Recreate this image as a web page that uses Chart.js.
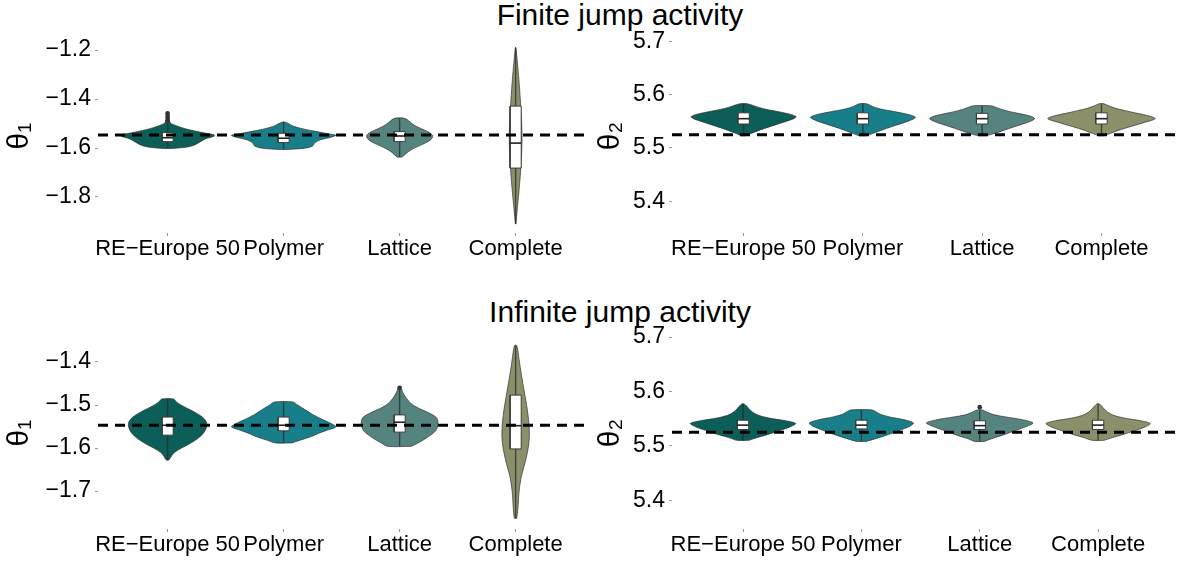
<!DOCTYPE html>
<html>
<head>
<meta charset="utf-8">
<title>Violin plots</title>
<script src="https://cdn.jsdelivr.net/npm/chart.js@4.4.1/dist/chart.umd.min.js"></script>
<style>
  body { margin: 0; background: #fff; width: 1182px; height: 561px; position: relative; overflow: hidden; font-family: 'Liberation Sans', Arial, sans-serif; }
  canvas { position: absolute; }
  .title { position: absolute; font-size: 30px; line-height: 30px; white-space: nowrap; transform: translateX( -50% ); color: #000; }
</style>
</head>
<body>
<div class="title" style="left:620px; top:0px;">Finite jump activity</div>
<div class="title" style="left:620px; top:297px;">Infinite jump activity</div>
<canvas id="finiteTheta1" width="595" height="275" style="left:0px; top:0px;"></canvas>
<canvas id="finiteTheta2" width="587" height="275" style="left:595px; top:0px;"></canvas>
<canvas id="infiniteTheta1" width="595" height="271" style="left:0px; top:290px;"></canvas>
<canvas id="infiniteTheta2" width="587" height="271" style="left:595px; top:290px;"></canvas>
<script>
'use strict';

const categories = [ 'RE−Europe 50', 'Polymer', 'Lattice', 'Complete' ];
const colours = [ '#0c5e59', '#187f8a', '#55847e', '#8c906a' ];

const theta1FiniteTicks = [ -1.8, -1.6, -1.4, -1.2 ];
const theta1InfiniteTicks = [ -1.7, -1.6, -1.5, -1.4 ];
const theta2Ticks = [ 5.4, 5.5, 5.6, 5.7 ];

const trueTheta1 = -1.547;
const trueTheta2 = 5.525;

// violin outlines: [value, half width in category units], bottom to top
const finiteTheta1Violins = [
  [ [ -1.602, 0.03 ], [ -1.598, 0.14 ], [ -1.59, 0.22 ], [ -1.575, 0.28 ], [ -1.562, 0.33 ], [ -1.552, 0.40 ], [ -1.546, 0.40 ], [ -1.538, 0.31 ], [ -1.528, 0.21 ], [ -1.518, 0.13 ], [ -1.508, 0.07 ], [ -1.498, 0.025 ], [ -1.48, 0.012 ], [ -1.458, 0.005 ] ],
  [ [ -1.606, 0.03 ], [ -1.601, 0.18 ], [ -1.592, 0.25 ], [ -1.578, 0.27 ], [ -1.566, 0.32 ], [ -1.556, 0.41 ], [ -1.548, 0.45 ], [ -1.54, 0.36 ], [ -1.53, 0.25 ], [ -1.52, 0.15 ], [ -1.51, 0.08 ], [ -1.50, 0.04 ], [ -1.494, 0.01 ] ],
  [ [ -1.637, 0.02 ], [ -1.625, 0.05 ], [ -1.61, 0.09 ], [ -1.595, 0.15 ], [ -1.58, 0.22 ], [ -1.565, 0.27 ], [ -1.55, 0.285 ], [ -1.535, 0.25 ], [ -1.52, 0.18 ], [ -1.505, 0.12 ], [ -1.49, 0.08 ], [ -1.48, 0.05 ], [ -1.477, 0.01 ] ],
  [ [ -1.91, 0.002 ], [ -1.85, 0.014 ], [ -1.78, 0.028 ], [ -1.70, 0.042 ], [ -1.62, 0.052 ], [ -1.55, 0.055 ], [ -1.48, 0.05 ], [ -1.40, 0.04 ], [ -1.32, 0.028 ], [ -1.25, 0.015 ], [ -1.19, 0.002 ] ]
];
// boxes: [lower whisker, q1, median, q3, upper whisker]
const finiteTheta1Boxes = [
  [ -1.600, -1.574, -1.558, -1.537, -1.500 ],
  [ -1.605, -1.578, -1.560, -1.540, -1.494 ],
  [ -1.636, -1.574, -1.551, -1.533, -1.478 ],
  [ -1.910, -1.682, -1.580, -1.429, -1.190 ]
];
const finiteTheta1Outliers = [ [ -1.458, -1.468, -1.478, -1.488 ], [], [], [] ];

const finiteTheta2Violins = [
  [ [ 5.523, 0.02 ], [ 5.527, 0.06 ], [ 5.533, 0.13 ], [ 5.54, 0.22 ], [ 5.548, 0.33 ], [ 5.555, 0.42 ], [ 5.559, 0.44 ], [ 5.564, 0.38 ], [ 5.569, 0.27 ], [ 5.574, 0.16 ], [ 5.579, 0.09 ], [ 5.583, 0.03 ] ],
  [ [ 5.523, 0.03 ], [ 5.527, 0.08 ], [ 5.533, 0.15 ], [ 5.54, 0.24 ], [ 5.548, 0.35 ], [ 5.554, 0.42 ], [ 5.558, 0.44 ], [ 5.563, 0.38 ], [ 5.568, 0.27 ], [ 5.573, 0.15 ], [ 5.578, 0.08 ], [ 5.583, 0.03 ] ],
  [ [ 5.523, 0.03 ], [ 5.527, 0.10 ], [ 5.533, 0.18 ], [ 5.54, 0.27 ], [ 5.548, 0.38 ], [ 5.555, 0.44 ], [ 5.56, 0.40 ], [ 5.565, 0.30 ], [ 5.57, 0.20 ], [ 5.575, 0.13 ], [ 5.579, 0.08 ] ],
  [ [ 5.523, 0.02 ], [ 5.527, 0.07 ], [ 5.533, 0.14 ], [ 5.54, 0.24 ], [ 5.548, 0.36 ], [ 5.555, 0.45 ], [ 5.56, 0.40 ], [ 5.565, 0.30 ], [ 5.57, 0.20 ], [ 5.575, 0.11 ], [ 5.58, 0.05 ], [ 5.583, 0.02 ] ]
];
const finiteTheta2Boxes = [
  [ 5.523, 5.545, 5.555, 5.566, 5.583 ],
  [ 5.523, 5.545, 5.555, 5.566, 5.583 ],
  [ 5.523, 5.545, 5.555, 5.565, 5.579 ],
  [ 5.523, 5.545, 5.555, 5.566, 5.583 ]
];
const finiteTheta2Outliers = [ [], [], [], [] ];

const infiniteTheta1Violins = [
  [ [ -1.628, 0.01 ], [ -1.62, 0.03 ], [ -1.61, 0.06 ], [ -1.60, 0.12 ], [ -1.59, 0.19 ], [ -1.578, 0.26 ], [ -1.565, 0.31 ], [ -1.552, 0.335 ], [ -1.54, 0.335 ], [ -1.528, 0.30 ], [ -1.516, 0.23 ], [ -1.505, 0.15 ], [ -1.494, 0.08 ], [ -1.486, 0.05 ] ],
  [ [ -1.588, 0.07 ], [ -1.582, 0.14 ], [ -1.574, 0.23 ], [ -1.566, 0.30 ], [ -1.558, 0.38 ], [ -1.551, 0.45 ], [ -1.543, 0.41 ], [ -1.533, 0.33 ], [ -1.522, 0.25 ], [ -1.51, 0.18 ], [ -1.50, 0.12 ], [ -1.493, 0.08 ] ],
  [ [ -1.596, 0.10 ], [ -1.588, 0.16 ], [ -1.575, 0.24 ], [ -1.56, 0.31 ], [ -1.545, 0.33 ], [ -1.53, 0.32 ], [ -1.518, 0.25 ], [ -1.507, 0.16 ], [ -1.497, 0.10 ], [ -1.485, 0.06 ], [ -1.472, 0.03 ], [ -1.46, 0.01 ] ],
  [ [ -1.763, 0.01 ], [ -1.74, 0.02 ], [ -1.70, 0.03 ], [ -1.665, 0.05 ], [ -1.635, 0.08 ], [ -1.605, 0.105 ], [ -1.575, 0.118 ], [ -1.545, 0.115 ], [ -1.51, 0.10 ], [ -1.47, 0.075 ], [ -1.43, 0.05 ], [ -1.395, 0.03 ], [ -1.362, 0.01 ] ]
];
const infiniteTheta1Boxes = [
  [ -1.628, -1.570, -1.547, -1.528, -1.486 ],
  [ -1.588, -1.560, -1.547, -1.528, -1.493 ],
  [ -1.596, -1.563, -1.540, -1.523, -1.460 ],
  [ -1.763, -1.602, -1.548, -1.477, -1.362 ]
];
const infiniteTheta1Outliers = [ [], [], [ -1.46 ], [] ];

const infiniteTheta2Violins = [
  [ [ 5.51, 0.05 ], [ 5.515, 0.12 ], [ 5.52, 0.20 ], [ 5.527, 0.30 ], [ 5.535, 0.40 ], [ 5.541, 0.445 ], [ 5.546, 0.36 ], [ 5.551, 0.22 ], [ 5.556, 0.13 ], [ 5.562, 0.08 ], [ 5.568, 0.05 ], [ 5.573, 0.03 ], [ 5.577, 0.01 ] ],
  [ [ 5.508, 0.04 ], [ 5.513, 0.12 ], [ 5.52, 0.22 ], [ 5.528, 0.32 ], [ 5.536, 0.41 ], [ 5.542, 0.44 ], [ 5.548, 0.36 ], [ 5.553, 0.24 ], [ 5.558, 0.16 ], [ 5.563, 0.12 ], [ 5.566, 0.09 ] ],
  [ [ 5.508, 0.04 ], [ 5.513, 0.10 ], [ 5.52, 0.20 ], [ 5.528, 0.30 ], [ 5.536, 0.40 ], [ 5.542, 0.45 ], [ 5.548, 0.36 ], [ 5.553, 0.22 ], [ 5.557, 0.12 ], [ 5.561, 0.07 ], [ 5.566, 0.02 ] ],
  [ [ 5.51, 0.05 ], [ 5.515, 0.12 ], [ 5.52, 0.20 ], [ 5.527, 0.30 ], [ 5.535, 0.40 ], [ 5.541, 0.44 ], [ 5.546, 0.36 ], [ 5.551, 0.22 ], [ 5.556, 0.13 ], [ 5.562, 0.08 ], [ 5.568, 0.05 ], [ 5.573, 0.03 ], [ 5.577, 0.01 ] ]
];
const infiniteTheta2Boxes = [
  [ 5.510, 5.530, 5.538, 5.547, 5.577 ],
  [ 5.508, 5.531, 5.538, 5.547, 5.566 ],
  [ 5.508, 5.530, 5.537, 5.546, 5.566 ],
  [ 5.510, 5.530, 5.538, 5.547, 5.577 ]
];
const infiniteTheta2Outliers = [ [], [], [ 5.571 ], [] ];

const boxHalfWidth = 0.048;
const fontFamily = '\'Liberation Sans\', Arial, sans-serif';

function violinShape( centre, profile ) {
  let right = profile.map( p => ( { x: centre + p[1], y: p[0] } ) );
  let left = profile.slice().reverse().map( p => ( { x: centre - p[1], y: p[0] } ) );
  let shape = right.concat( left );
  shape.push( shape[0] );
  return shape;
}

function boxShape( centre, box ) {
  return [
    { x: centre - boxHalfWidth, y: box[1] },
    { x: centre + boxHalfWidth, y: box[1] },
    { x: centre + boxHalfWidth, y: box[3] },
    { x: centre - boxHalfWidth, y: box[3] },
    { x: centre - boxHalfWidth, y: box[1] }
  ];
}

function drawPanel( id, panel ) {
  let datasets = [];

  for ( let i = 0; i < categories.length; i++ ) {
    let centre = i + 1;
    let box = panel.boxes[i];

    datasets.push( {
      data: violinShape( centre, panel.violins[i] ),
      fill: 'shape',
      backgroundColor: colours[i],
      borderColor: 'rgba(45,45,45,0.85)',
      borderWidth: 0.8,
      tension: 0.3,
      order: 5
    } );
    datasets.push( {
      data: [ { x: centre, y: box[0] }, { x: centre, y: box[4] } ],
      borderColor: 'rgba(40,40,40,0.75)',
      borderWidth: 1.4,
      order: 4
    } );
    datasets.push( {
      data: boxShape( centre, box ),
      fill: 'shape',
      backgroundColor: '#ffffff',
      borderColor: '#3a3a3a',
      borderWidth: 1,
      order: 3
    } );
    datasets.push( {
      data: [ { x: centre - boxHalfWidth, y: box[2] }, { x: centre + boxHalfWidth, y: box[2] } ],
      borderColor: '#222222',
      borderWidth: 1.6,
      order: 2
    } );
    if ( panel.outliers[i].length ) {
      datasets.push( {
        data: panel.outliers[i].map( v => ( { x: centre, y: v } ) ),
        showLine: false,
        pointRadius: 2.3,
        pointBackgroundColor: '#333333',
        pointBorderWidth: 0,
        order: 2
      } );
    }
  }

  datasets.push( {
    data: [ { x: panel.xMin, y: panel.truth }, { x: panel.xMax, y: panel.truth } ],
    borderColor: '#000000',
    borderWidth: 3,
    borderDash: [ 10, 7 ],
    order: 0
  } );

  let ctx = document.getElementById( id ).getContext( '2d' );
  return new Chart( ctx, {
    type: 'line',
    data: { datasets: datasets },
    options: {
      responsive: false,
      animation: false,
      devicePixelRatio: 1,
      events: [],
      elements: { point: { radius: 0 }, line: { tension: 0 } },
      layout: { padding: { top: panel.padTop, right: panel.padRight, left: 0, bottom: 0 } },
      plugins: { legend: { display: false }, tooltip: { enabled: false } },
      scales: {
        x: {
          type: 'linear',
          bounds: 'data',
          min: panel.xMin,
          max: panel.xMax,
          afterBuildTicks: axis => { axis.ticks = categories.map( ( c, i ) => ( { value: i + 1 } ) ); },
          afterFit: axis => { axis.height = panel.xHeight; },
          ticks: {
            autoSkip: false,
            maxRotation: 0,
            minRotation: 0,
            padding: 0,
            color: '#000000',
            font: { family: fontFamily, size: 22 },
            callback: v => categories[v - 1]
          },
          grid: { drawOnChartArea: false, color: '#9a9a9a', tickLength: 3 },
          border: { display: false }
        },
        y: {
          type: 'linear',
          bounds: 'data',
          min: panel.yMin,
          max: panel.yMax,
          afterBuildTicks: axis => { axis.ticks = panel.ticks.map( v => ( { value: v } ) ); },
          afterFit: axis => { axis.width = panel.yWidth; },
          ticks: {
            padding: 4,
            color: '#000000',
            font: { family: fontFamily, size: 23 },
            callback: v => String( v ).replace( '-', '\u2212' )
          },
          grid: { drawOnChartArea: false, color: '#9a9a9a', tickLength: 3 },
          border: { display: false },
          title: {
            display: true,
            text: panel.label,
            color: '#000000',
            padding: { top: panel.titlePad, bottom: 0 },
            font: { family: fontFamily, size: 30, lineHeight: 1 }
          }
        }
      }
    }
  } );
}

drawPanel( 'finiteTheta1', {
  violins: finiteTheta1Violins, boxes: finiteTheta1Boxes, outliers: finiteTheta1Outliers,
  ticks: theta1FiniteTicks, truth: trueTheta1, label: 'θ₁',
  xMin: 0.4, xMax: 4.641, yMin: -1.947, yMax: -1.155,
  padTop: 39, padRight: 5, yWidth: 98, xHeight: 42, titlePad: 5
} );

drawPanel( 'finiteTheta2', {
  violins: finiteTheta2Violins, boxes: finiteTheta2Boxes, outliers: finiteTheta2Outliers,
  ticks: theta2Ticks, truth: trueTheta2, label: 'θ₂',
  xMin: 0.4, xMax: 4.675, yMin: 5.3405, yMax: 5.7045,
  padTop: 39, padRight: 0, yWidth: 77, xHeight: 42, titlePad: 1
} );

drawPanel( 'infiniteTheta1', {
  violins: infiniteTheta1Violins, boxes: infiniteTheta1Boxes, outliers: infiniteTheta1Outliers,
  ticks: theta1InfiniteTicks, truth: trueTheta1, label: 'θ₁',
  xMin: 0.4, xMax: 4.641, yMin: -1.788, yMax: -1.342,
  padTop: 47, padRight: 5, yWidth: 98, xHeight: 32, titlePad: 5
} );

drawPanel( 'infiniteTheta2', {
  violins: infiniteTheta2Violins, boxes: infiniteTheta2Boxes, outliers: infiniteTheta2Outliers,
  ticks: theta2Ticks, truth: trueTheta2, label: 'θ₂',
  xMin: 0.4, xMax: 4.675, yMin: 5.347, yMax: 5.7,
  padTop: 47, padRight: 0, yWidth: 77, xHeight: 32, titlePad: 1
} );
</script>
</body>
</html>
